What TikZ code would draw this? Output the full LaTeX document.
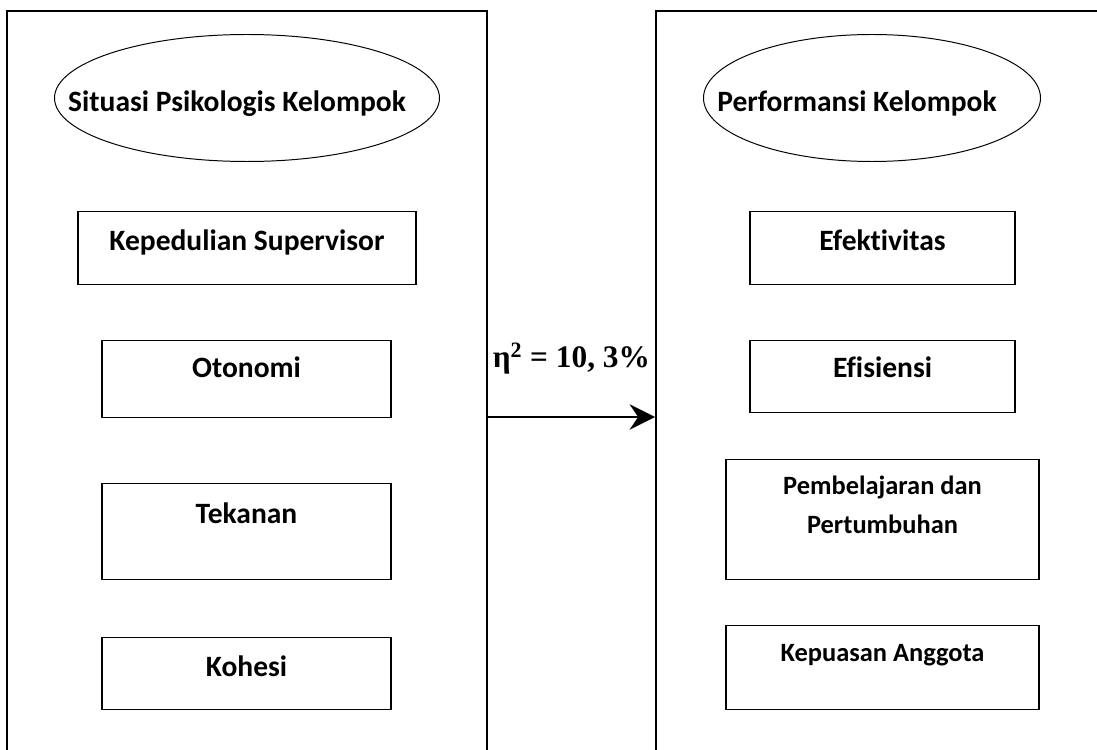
\documentclass[tikz,border=0pt]{standalone}
\usepackage{fontspec}
\setmainfont{Carlito}[Ligatures=NoCommon]
\newfontfamily\timesfont{Liberation Serif}
\usetikzlibrary{shapes.geometric,arrows.meta}

\tikzset{
  bingkai/.style={draw, line width=1.3pt, minimum width=12cm, minimum height=20cm, anchor=north},
  oval/.style={draw, ellipse, line width=0.7pt, minimum height=3.175cm, inner sep=0pt},
  judul/.style={anchor=base, font=\bfseries\fontsize{21}{25}\selectfont},
  kotak/.style={draw, line width=1pt, anchor=north, inner ysep=0pt, align=center, font=\bfseries\fontsize{21}{25}\selectfont},
  kotakkecil/.style={kotak, font=\bfseries\fontsize{18.8}{27.7}\selectfont},
  panah/.style={-{Stealth[length=18pt,width=18pt,inset=6pt]}, line width=2pt}
}

\begin{document}
\begin{tikzpicture}
\useasboundingbox (0,0) rectangle (27.425,18.725);
\clip (0,0) rectangle (27.425,18.725);

% dua bingkai besar
\node[bingkai] (kiri) at (6.175,18.4625) {};
\node[bingkai, anchor=north west] (kanan) at (16.375,18.4625) {};

\node[oval, minimum width=9.625cm] (elkiri) at (6.175,16.275) {};
\node[judul] (tkiri) at ([xshift=-0.25cm,yshift=-0.35cm]elkiri.center) {Situasi Psikologis Kelompok};
\node[oval, minimum width=8.425cm] (elkanan) at (21.8,16.275) {};
\node[judul] (tkanan) at ([xshift=-0.375cm,yshift=-0.35cm]elkanan.center) {Performansi Kelompok};

% variabel kiri
\node[kotak, minimum width=8.45cm, text height=0.975cm, text depth=0.85cm] (peduli) at (6.175,13.45) {Kepedulian Supervisor};
\node[kotak, minimum width=7.225cm, text height=0.925cm, text depth=1cm] (otonomi) at (6.1625,10.225) {Otonomi};
\node[kotak, minimum width=7.225cm, text height=1cm, text depth=1.4cm] (tekanan) at (6.1625,6.65) {Tekanan};
\node[kotak, minimum width=7.225cm, text height=0.975cm, text depth=0.825cm] (kohesi) at (6.1625,2.8) {Kohesi};

% variabel kanan
\node[kotak, minimum width=6.625cm, text height=0.975cm, text depth=0.85cm] (efektif) at (22.0625,13.45) {Efektivitas};
\node[kotak, minimum width=6.625cm, text height=0.925cm, text depth=0.875cm] (efisien) at (22.0625,10.225) {Efisiensi};
\node[kotakkecil, minimum width=7.825cm, text height=1.85cm, text depth=1.15cm] (belajar) at (22.0625,7.25) {Pembelajaran dan\\Pertumbuhan};
\node[kotakkecil, minimum width=7.825cm, text height=0.9cm, text depth=1.2cm] (puas) at (22.0625,3.1) {Kepuasan Anggota};

\coordinate (tengah) at (0,8.3);
\draw[panah] (kiri.east |- tengah) -- (kanan.west |- tengah)
  node[midway, anchor=base, yshift=1.225cm, font=\timesfont\bfseries\fontsize{22.3}{26}\selectfont] (eta) {η\textsuperscript{2} = 10, 3\%};

\end{tikzpicture}
\end{document}
